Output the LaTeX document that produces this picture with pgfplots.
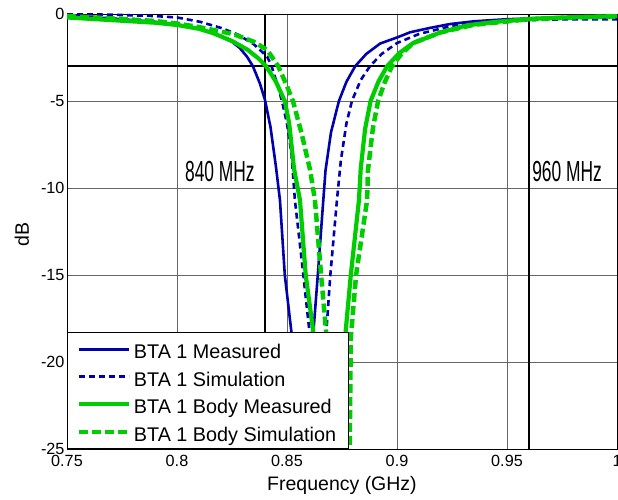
\documentclass[border=0pt]{standalone}
\usepackage{fontspec}
\setmainfont{Liberation Sans}
\usepackage{pgfplots}
\pgfplotsset{compat=1.18}
\definecolor{mblue}{RGB}{0,0,175}
\definecolor{mgreen}{RGB}{0,205,0}
\begin{document}
\begin{tikzpicture}[x=1pt,y=1pt]
\useasboundingbox (0,0) rectangle (618,500);
\begin{axis}[
 at={(67pt,51pt)}, anchor=south west,
 scale only axis, width=550pt, height=435pt,
 xmin=0.75, xmax=1, ymin=-25, ymax=0,
 xtick={0.75,0.8,0.85,0.9,0.95,1},
 xticklabels={0.75,0.8,0.85,0.9,0.95,1},
 ytick={-25,-20,-15,-10,-5,0},
 yticklabels={-25,-20,-15,-10,-5,0},
 grid=major,
 major grid style={line width=0.8pt, draw=black!60},
 major tick length=0pt,
 axis line style={line width=0.9pt, black},
 tick label style={font=\fontsize{16.2}{18}\selectfont},
 xticklabel style={yshift=-2.5pt},
 yticklabel style={xshift=1pt},
 label style={font=\fontsize{19.5}{22}\selectfont},
 xlabel={Frequency (GHz)}, ylabel={dB},
 xlabel style={at={(axis description cs:0.5,0)}, anchor=north, yshift=-24pt},
 ylabel style={at={(axis description cs:-0.0818,0.493)}, anchor=center},
 legend style={at={(0,0)}, anchor=south west, draw=black, line width=0.9pt,
   font=\fontsize{19.8}{21}\selectfont, inner xsep=9pt, inner ysep=3pt,
   nodes={inner xsep=3pt, inner ysep=4.5pt, text height=18.5pt, text depth=0pt},
   row sep=0pt},
 legend cell align=left,
 legend image code/.code={\draw[#1] (0pt,0pt) -- (50pt,0pt);},
 every axis plot/.append style={line join=round},
]
\addplot[black, line width=2.2pt, forget plot] coordinates {(0.75,-3) (1,-3)};
\addplot[black, line width=2.2pt, forget plot] coordinates {(0.84,0) (0.84,-25)};
\addplot[black, line width=2.2pt, forget plot] coordinates {(0.96,0) (0.96,-25)};

\addplot[mblue, line width=2.6pt] coordinates {
(0.75,-0.1)(0.77,-0.25)(0.79,-0.45)(0.80,-0.6)(0.81,-0.85)(0.8164,-1.1)(0.82,-1.3)(0.825,-1.6)(0.8285,-1.95)(0.8318,-2.45)(0.8345,-3.0)(0.8377,-4.0)(0.84,-4.94)(0.8425,-6.5)(0.845,-8.8)(0.8468,-10.7)(0.849,-15)(0.8523,-18.6)(0.855,-23)(0.857,-27)(0.859,-24)(0.8618,-18.6)(0.864,-15)(0.8665,-10.7)(0.8675,-9)(0.87,-6.8)(0.8736,-5)(0.877,-3.9)(0.881,-3)(0.886,-2.3)(0.8923,-1.7)(0.9,-1.35)(0.906,-1.05)(0.915,-0.8)(0.924,-0.58)(0.935,-0.42)(0.95,-0.3)(0.975,-0.2)(1.0,-0.15)};
\addlegendentry{BTA 1 Measured}

\addplot[mblue, line width=2.6pt, dash pattern=on 6pt off 4pt] coordinates {
(0.75,0)(0.77,-0.04)(0.79,-0.12)(0.80,-0.2)(0.8105,-0.45)(0.82,-0.8)(0.828,-1.2)(0.835,-1.75)(0.841,-2.45)(0.843,-3.0)(0.8455,-4.0)(0.8477,-5.0)(0.85,-6.3)(0.852,-8)(0.8536,-10.7)(0.857,-14.5)(0.8605,-18.6)(0.8625,-23)(0.864,-27)(0.8655,-23)(0.8677,-18.6)(0.8697,-15)(0.8727,-10.7)(0.8745,-8.4)(0.877,-6.3)(0.8795,-5)(0.8835,-3.8)(0.8877,-3)(0.893,-2.3)(0.9,-1.67)(0.91,-1.15)(0.925,-0.68)(0.94,-0.48)(0.96,-0.35)(0.98,-0.3)(1.0,-0.3)};
\addlegendentry{BTA 1 Simulation}

\addplot[mgreen, line width=4.2pt] coordinates {
(0.75,-0.2)(0.77,-0.35)(0.79,-0.5)(0.80,-0.63)(0.81,-0.85)(0.8164,-1.1)(0.825,-1.55)(0.832,-2.05)(0.837,-2.55)(0.8405,-3.0)(0.845,-3.9)(0.849,-5.0)(0.851,-6.3)(0.8532,-8.9)(0.8559,-10.7)(0.8585,-15)(0.8623,-18.6)(0.866,-24)(0.869,-30)(0.872,-25)(0.8764,-18.6)(0.879,-15)(0.8827,-10.7)(0.8835,-8.9)(0.8855,-6.6)(0.888,-5)(0.8915,-3.9)(0.8955,-3)(0.901,-2.25)(0.9073,-1.67)(0.92,-1.05)(0.932,-0.65)(0.945,-0.45)(0.962,-0.27)(0.98,-0.18)(1.0,-0.12)};
\addlegendentry{BTA 1 Body Measured}

\addplot[mgreen, line width=4.5pt, dash pattern=on 9pt off 4pt] coordinates {
(0.75,-0.12)(0.77,-0.25)(0.79,-0.4)(0.80,-0.55)(0.81,-0.75)(0.8255,-1.15)(0.835,-1.6)(0.841,-2.07)(0.846,-3.0)(0.8495,-4.0)(0.8527,-5.0)(0.8565,-6.8)(0.8605,-8.97)(0.8627,-10.7)(0.8655,-15)(0.868,-18.6)(0.871,-24)(0.8735,-33)(0.876,-31)(0.8785,-25)(0.879,-18.6)(0.8814,-15)(0.8864,-10.7)(0.8868,-8.97)(0.889,-6.6)(0.8914,-5)(0.8945,-3.9)(0.8977,-3)(0.902,-2.3)(0.9073,-1.67)(0.92,-1.05)(0.935,-0.62)(0.96,-0.3)(0.98,-0.2)(1.0,-0.15)};
\addlegendentry{BTA 1 Body Simulation}

\node at (axis cs:0.8195,-9.08) {\scalebox{0.6}[1]{\fontsize{29}{30}\selectfont 840 MHz}};
\node at (axis cs:0.9773,-9.08) {\scalebox{0.6}[1]{\fontsize{29}{30}\selectfont 960 MHz}};
\end{axis}
\end{tikzpicture}
\end{document}
